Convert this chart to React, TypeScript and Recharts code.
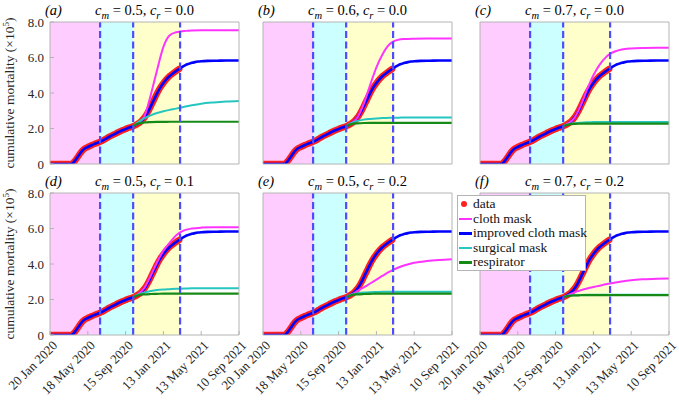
import React from "react";
import { ComposedChart, Line, XAxis, YAxis, ReferenceArea, ReferenceLine } from "recharts";

// cumulative mortality, x 10^5, days since 20 Jan 2020
const DATA_DAYS = [0, 10, 20, 30, 40, 50, 60, 70, 80, 90, 100, 110, 120, 130, 140, 150, 160, 170, 180, 190, 200, 210, 220, 230, 240, 250, 260, 270, 280, 290, 300, 310, 320, 330, 340, 350, 360, 370, 380, 390, 400, 410];
const DATA_VALUES = [0, 0, 0, 0, 0, 0, 0, 0.02, 0.2, 0.45, 0.7, 0.87, 0.96, 1.04, 1.12, 1.19, 1.26, 1.35, 1.45, 1.55, 1.64, 1.73, 1.82, 1.9, 1.97, 2.04, 2.1, 2.18, 2.28, 2.42, 2.62, 2.9, 3.25, 3.62, 3.98, 4.3, 4.56, 4.78, 4.96, 5.1, 5.23, 5.35];

// improved cloth mask projection after the fitted period
const FIT_TAIL_DAYS = [420, 430, 440, 450, 460, 470, 480, 500, 530, 560, 600];
const FIT_TAIL_VALUES = [5.47, 5.57, 5.64, 5.7, 5.74, 5.77, 5.79, 5.81, 5.82, 5.83, 5.83];

// scenario curves start at the third intervention
const SCEN_DAYS = [264, 280, 300, 320, 340, 360, 380, 400, 413, 430, 450, 480, 520, 560, 600];

const CLOTH_A = [2.13, 2.3, 2.7, 3.9, 5.3, 6.6, 7.25, 7.42, 7.47, 7.5, 7.52, 7.53, 7.53, 7.53, 7.53];
const SURG_A = [2.13, 2.36, 2.58, 2.74, 2.87, 2.97, 3.05, 3.12, 3.17, 3.24, 3.31, 3.4, 3.47, 3.52, 3.55];
const RESP_A = [2.13, 2.28, 2.34, 2.36, 2.37, 2.37, 2.38, 2.38, 2.38, 2.38, 2.38, 2.38, 2.38, 2.38, 2.38];

const CLOTH_B = [2.13, 2.3, 2.62, 3.4, 4.45, 5.45, 6.2, 6.72, 6.9, 7.0, 7.04, 7.06, 7.07, 7.07, 7.07];
const SURG_B = [2.13, 2.3, 2.43, 2.5, 2.54, 2.57, 2.59, 2.6, 2.61, 2.61, 2.62, 2.62, 2.62, 2.62, 2.62];
const RESP_B = [2.13, 2.25, 2.29, 2.31, 2.32, 2.32, 2.32, 2.32, 2.32, 2.32, 2.32, 2.32, 2.32, 2.32, 2.32];

const CLOTH_C = [2.13, 2.3, 2.6, 3.3, 4.2, 5.0, 5.6, 6.02, 6.2, 6.35, 6.45, 6.51, 6.54, 6.55, 6.55];
const SURG_C = [2.13, 2.24, 2.3, 2.33, 2.35, 2.36, 2.37, 2.37, 2.37, 2.37, 2.37, 2.37, 2.37, 2.37, 2.37];
const RESP_C = [2.13, 2.22, 2.26, 2.27, 2.28, 2.28, 2.28, 2.28, 2.28, 2.28, 2.28, 2.28, 2.28, 2.28, 2.28];

const CLOTH_D = [2.13, 2.3, 2.66, 3.35, 4.1, 4.75, 5.2, 5.6, 5.78, 5.92, 6.0, 6.05, 6.07, 6.07, 6.07];
const SURG_D = [2.13, 2.28, 2.4, 2.48, 2.53, 2.56, 2.58, 2.6, 2.61, 2.62, 2.63, 2.63, 2.63, 2.63, 2.63];
const RESP_D = [2.13, 2.24, 2.29, 2.31, 2.32, 2.33, 2.33, 2.33, 2.33, 2.33, 2.33, 2.33, 2.33, 2.33, 2.33];

const CLOTH_E = [2.13, 2.27, 2.48, 2.68, 2.9, 3.12, 3.34, 3.55, 3.67, 3.8, 3.93, 4.07, 4.17, 4.23, 4.27];
const SURG_E = [2.13, 2.27, 2.35, 2.39, 2.41, 2.42, 2.43, 2.43, 2.44, 2.44, 2.44, 2.44, 2.44, 2.44, 2.44];
const RESP_E = [2.13, 2.24, 2.29, 2.31, 2.32, 2.33, 2.33, 2.33, 2.33, 2.33, 2.33, 2.33, 2.33, 2.33, 2.33];

const CLOTH_F = [2.13, 2.25, 2.4, 2.52, 2.62, 2.7, 2.78, 2.86, 2.9, 2.96, 3.02, 3.09, 3.14, 3.17, 3.19];
const SURG_F = [2.13, 2.21, 2.24, 2.26, 2.27, 2.27, 2.27, 2.27, 2.27, 2.27, 2.27, 2.27, 2.27, 2.27, 2.27];
const RESP_F = [2.13, 2.2, 2.23, 2.24, 2.25, 2.25, 2.25, 2.25, 2.25, 2.25, 2.25, 2.25, 2.25, 2.25, 2.25];

// intervention phase boundaries (days)
const PHASE_BOUNDS = [0, 159, 264, 413];
const PHASE_COLORS = ["#ffccff", "#ccffff", "#ffffcc"];

const X_TICK_DAYS = [0, 120, 240, 360, 480, 600];
const X_TICK_LABELS = ["20 Jan 2020", "18 May 2020", "15 Sep 2020", "13 Jan 2021", "13 May 2021", "10 Sep 2021"];
const Y_TICKS = [0, 2, 4, 6, 8];

const COLORS = {
  data: "#ff2020",
  cloth: "#ff33ff",
  improved: "#0000ff",
  surgical: "#26c6c0",
  respirator: "#168a16",
  dash: "#4d4dff",
  box: "#b4b4b4",
};

const FONT = "'Liberation Serif', 'DejaVu Serif', Times, serif";

const toSeries = (days: number[], values: number[]) => days.map((d, i) => ({ day: d, v: values[i] }));

const dataSeries = toSeries(DATA_DAYS, DATA_VALUES);
const improvedSeries = toSeries([...DATA_DAYS, ...FIT_TAIL_DAYS], [...DATA_VALUES, ...FIT_TAIL_VALUES]);

const PLOT_W = 189;
const PLOT_H = 142;
const Y_W = 45;
const MT = 9;
const MR = 24;

const PANELS = [
  { letter: "a", cm: "0.5", cr: "0.0", x: 50, y: 22, cloth: CLOTH_A, surg: SURG_A, resp: RESP_A },
  { letter: "b", cm: "0.6", cr: "0.0", x: 263, y: 22, cloth: CLOTH_B, surg: SURG_B, resp: RESP_B },
  { letter: "c", cm: "0.7", cr: "0.0", x: 480, y: 22, cloth: CLOTH_C, surg: SURG_C, resp: RESP_C },
  { letter: "d", cm: "0.5", cr: "0.1", x: 50, y: 193, cloth: CLOTH_D, surg: SURG_D, resp: RESP_D },
  { letter: "e", cm: "0.5", cr: "0.2", x: 263, y: 193, cloth: CLOTH_E, surg: SURG_E, resp: RESP_E },
  { letter: "f", cm: "0.7", cr: "0.2", x: 480, y: 193, cloth: CLOTH_F, surg: SURG_F, resp: RESP_F },
];

const DateTick = (props: any) => {
  const { x, y, payload } = props;
  const label = X_TICK_LABELS[X_TICK_DAYS.indexOf(payload.value)];
  const ax = x + 5;
  const ay = y + 8;
  return (
    <text
      x={ax}
      y={ay}
      transform={`rotate(-45, ${ax}, ${ay})`}
      textAnchor="end"
      dominantBaseline="central"
      fontSize={13}
      fontFamily={FONT}
      fill="#262626"
    >
      {label}
    </text>
  );
};

function Panel({ p, showY, showX }: { p: (typeof PANELS)[number]; showY: boolean; showX: boolean }) {
  const xH = showX ? 62 : 10;
  const width = Y_W + PLOT_W + MR;
  const height = MT + PLOT_H + xH;
  return (
    <div style={{ position: "absolute", left: p.x - Y_W, top: p.y - MT }}>
      <ComposedChart width={width} height={height} margin={{ top: MT, right: MR, left: 0, bottom: 0 }}>
        <XAxis
          dataKey="day"
          type="number"
          domain={[0, 600]}
          ticks={X_TICK_DAYS}
          allowDataOverflow
          height={xH}
          stroke={COLORS.box}
          tickSize={-4}
          tickMargin={4}
          interval={0}
          tick={showX ? <DateTick /> : false}
        />
        <XAxis
          xAxisId="top"
          orientation="top"
          mirror
          type="number"
          domain={[0, 600]}
          ticks={X_TICK_DAYS}
          stroke={COLORS.box}
          tickSize={4}
          tick={false}
        />
        <YAxis
          type="number"
          domain={[0, 8]}
          ticks={Y_TICKS}
          allowDataOverflow
          width={Y_W}
          stroke={COLORS.box}
          tickSize={-4}
          tickMargin={10}
          interval={0}
          tick={showY ? { fontSize: 13, fontFamily: FONT, fill: "#262626" } : false}
          tickFormatter={(v: number) => (v === 0 ? "0" : v.toFixed(1))}
        />
        <YAxis
          yAxisId="right"
          orientation="right"
          mirror
          type="number"
          domain={[0, 8]}
          ticks={Y_TICKS}
          stroke={COLORS.box}
          tickSize={4}
          tick={false}
        />
        {PHASE_COLORS.map((c, i) => (
          <ReferenceArea
            key={c}
            x1={PHASE_BOUNDS[i]}
            x2={PHASE_BOUNDS[i + 1]}
            y1={0}
            y2={8}
            fill={c}
            fillOpacity={1}
            stroke="none"
          />
        ))}
        <Line
          data={dataSeries}
          dataKey="v"
          type="monotone"
          stroke={COLORS.data}
          strokeWidth={6.5}
          strokeLinecap="round"
          dot={false}
          isAnimationActive={false}
        />
        <Line
          data={improvedSeries}
          dataKey="v"
          type="monotone"
          stroke={COLORS.improved}
          strokeWidth={2.6}
          dot={false}
          isAnimationActive={false}
        />
        <Line
          data={toSeries(SCEN_DAYS, p.cloth)}
          dataKey="v"
          type="monotone"
          stroke={COLORS.cloth}
          strokeWidth={2}
          dot={false}
          isAnimationActive={false}
        />
        <Line
          data={toSeries(SCEN_DAYS, p.surg)}
          dataKey="v"
          type="monotone"
          stroke={COLORS.surgical}
          strokeWidth={2}
          dot={false}
          isAnimationActive={false}
        />
        <Line
          data={toSeries(SCEN_DAYS, p.resp)}
          dataKey="v"
          type="monotone"
          stroke={COLORS.respirator}
          strokeWidth={2.2}
          dot={false}
          isAnimationActive={false}
        />
        {PHASE_BOUNDS.slice(1).map((d) => (
          <ReferenceLine key={d} x={d} stroke={COLORS.dash} strokeWidth={2.2} strokeDasharray="7 3.5" />
        ))}
      </ComposedChart>
      <div
        style={{
          position: "absolute",
          left: Y_W - 5,
          top: MT - 20,
          fontFamily: FONT,
          fontSize: 14.5,
          fontStyle: "italic",
          whiteSpace: "nowrap",
        }}
      >
        ({p.letter})
      </div>
      <div
        style={{
          position: "absolute",
          left: Y_W,
          width: PLOT_W,
          top: MT - 20,
          textAlign: "center",
          fontFamily: FONT,
          fontSize: 14.5,
          whiteSpace: "nowrap",
          lineHeight: "17px",
        }}
      >
        <i>c</i>
        <sub style={{ fontSize: 10.5, fontStyle: "italic", lineHeight: 0 }}>m</sub> = {p.cm}, <i>c</i>
        <sub style={{ fontSize: 10.5, fontStyle: "italic", lineHeight: 0 }}>r</sub> = {p.cr}
      </div>
    </div>
  );
}

const LEGEND_ITEMS = [
  { label: "data", color: COLORS.data, dot: true },
  { label: "cloth mask", color: COLORS.cloth, dot: false },
  { label: "improved cloth mask", color: COLORS.improved, dot: false },
  { label: "surgical mask", color: COLORS.surgical, dot: false },
  { label: "respirator", color: COLORS.respirator, dot: false },
];

function YLabel({ cy }: { cy: number }) {
  return (
    <div
      style={{
        position: "absolute",
        left: 10 - 100,
        top: cy - 8,
        width: 200,
        height: 16,
        lineHeight: "16px",
        textAlign: "center",
        transform: "rotate(-90deg)",
        fontFamily: FONT,
        fontSize: 13.5,
        color: "#262626",
        whiteSpace: "nowrap",
      }}
    >
      cumulative mortality (×10<sup style={{ fontSize: 9, lineHeight: 0 }}>5</sup>)
    </div>
  );
}

export default function App() {
  return (
    <div style={{ position: "fixed", left: 0, top: 0, width: 679, height: 400, background: "#fff", overflow: "hidden" }}>
      {PANELS.map((p, i) => (
        <Panel key={p.letter} p={p} showY={i % 3 === 0} showX={i >= 3} />
      ))}
      <YLabel cy={93} />
      <YLabel cy={264} />
      <div
        style={{
          position: "absolute",
          left: 457,
          top: 195,
          width: 127,
          height: 74,
          border: `1px solid ${COLORS.box}`,
          background: "#fff",
          fontFamily: FONT,
          fontSize: 13.5,
          color: "#111",
        }}
      >
        {LEGEND_ITEMS.map((it, i) => (
          <div key={it.label} style={{ position: "absolute", left: 0, top: 1 + i * 14.5, height: 14, lineHeight: "14px", whiteSpace: "nowrap" }}>
            {it.dot ? (
              <span
                style={{
                  position: "absolute",
                  left: 3,
                  top: 4,
                  width: 6,
                  height: 6,
                  borderRadius: 3,
                  background: it.color,
                }}
              />
            ) : (
              <span style={{ position: "absolute", left: 1, top: 6, width: 13, height: 2.5, background: it.color }} />
            )}
            <span style={{ position: "absolute", left: 15 }}>{it.label}</span>
          </div>
        ))}
      </div>
    </div>
  );
}
